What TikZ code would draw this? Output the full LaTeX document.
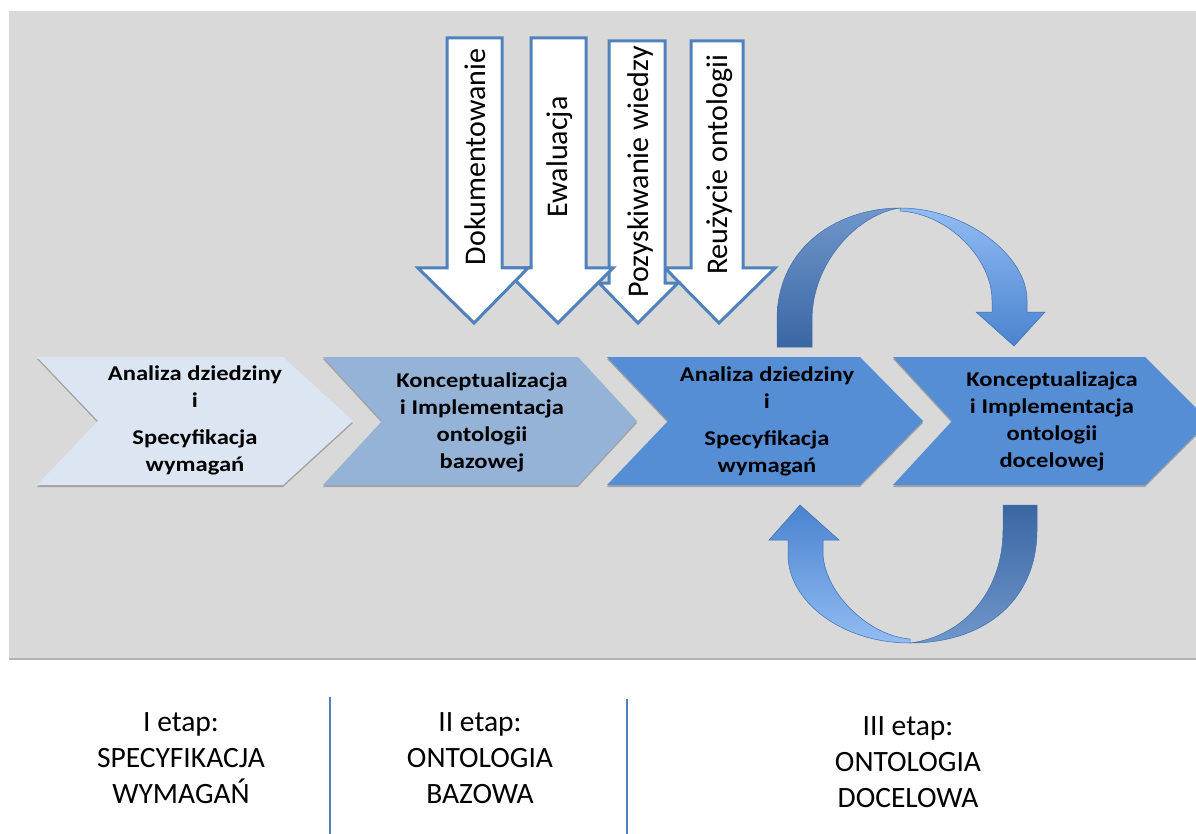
\documentclass[tikz,border=0pt]{standalone}
\usepackage{fontspec}
\setmainfont{Carlito}
\newfontfamily\chevfont[FakeStretch=1.17]{Carlito}
\usetikzlibrary{shadows}
\definecolor{bggray}{HTML}{D9D9D9}
\definecolor{chevA}{HTML}{DCE6F2}
\definecolor{chevB}{HTML}{95B3D7}
\definecolor{chevC}{HTML}{558ED5}
\definecolor{outl}{HTML}{4F81BD}
\definecolor{arcdark}{HTML}{3A66A3}
\definecolor{arcmid}{HTML}{7097CB}
\definecolor{arclight}{HTML}{92BCF3}
\definecolor{archead}{HTML}{4A83CF}
\tikzset{
  chevshadow/.style={drop shadow={shadow xshift=0pt,shadow yshift=-2pt,opacity=.25,fill=black}},
  dnarrow/.style={fill=white, draw=outl, line width=3pt, line join=miter},
  chevtext/.style={font=\chevfont\bfseries\fontsize{21}{27}\selectfont, align=center, text=black, inner sep=0pt},
  vtext/.style={font=\fontsize{30}{36}\selectfont, rotate=90, inner sep=0pt},
  stagetext/.style={font=\fontsize{29.5}{36}\selectfont, align=center, inner sep=0pt},
  sepline/.style={draw=outl, line width=2.5pt},
  arcedge/.style={draw=archead!85!black, line width=0.5pt},
}
\begin{document}
\begin{tikzpicture}[x=1pt,y=-1pt]
\useasboundingbox (0,0) rectangle (1196,834);
\clip (0,0) rectangle (1196,834);
% background panel
\path[fill=bggray, drop shadow={shadow xshift=0pt,shadow yshift=-2pt,opacity=.3,fill=black}] (9,11) rectangle (1205,658);

% white downward arrows
\path[dnarrow] (691,41) -- (743,41) -- (743,268) -- (775,268) -- (719,323) -- (665,268) -- (691,268) -- cycle;
\path[dnarrow] (609,41) -- (665,41) -- (665,283) -- (678,283) -- (638,323) -- (599,283) -- (609,283) -- cycle;
\path[dnarrow] (531,38) -- (586,38) -- (586,268) -- (613,268) -- (558,323) -- (503,268) -- (531,268) -- cycle;
\path[dnarrow] (447,38) -- (502,38) -- (502,268) -- (528,268) -- (474,323) -- (418,268) -- (447,268) -- cycle;
\node[vtext] (tDok) at (475,157) {Dokumentowanie};
\node[vtext] (tEwa) at (560,157) {Ewaluacja};
\node[vtext] (tPoz) at (640,172) {Pozyskiwanie wiedzy};
\node[vtext] (tReu) at (720,165) {Reużycie ontologii};

% chevrons
\path[fill=chevA, chevshadow] (37,357) -- (283,357) -- (353,421) -- (283,485) -- (37,485) -- (98,421) -- cycle;
\path[fill=chevB, chevshadow] (323,357) -- (578,357) -- (637,421) -- (578,485) -- (323,485) -- (382,421) -- cycle;
\path[fill=chevC, chevshadow] (607,357) -- (860,357) -- (923,421) -- (860,485) -- (607,485) -- (668,421) -- cycle;
\path[fill=chevC, chevshadow] (893,357) -- (1145,357) -- (1209,421) -- (1145,485) -- (893,485) -- (952,421) -- cycle;

\node[chevtext] (c1) at (195,420) {Analiza dziedziny\\i\\[10pt]Specyfikacja\\wymagań};
\node[chevtext] (c2) at (482,422) {Konceptualizacja\\i Implementacja\\ontologii\\bazowej};
\node[chevtext] (c3) at (767,421) {Analiza dziedziny\\i\\[10pt]Specyfikacja\\wymagań};
\node[chevtext] (c4) at (1052,421) {Konceptualizajca\\i Implementacja\\ontologii\\docelowej};

% top circular arrow
\path[shading=axis, top color=arcmid, bottom color=arcdark, arcedge]
  (777,347) -- (777,320) .. controls (777,245) and (840,208) .. (900,208)
  .. controls (858,214) and (812,262) .. (812,320) -- (812,347) -- cycle;
\path[shading=axis, top color=arclight, bottom color=archead, arcedge]
  (900,208) .. controls (965,208) and (1027,255) .. (1027,300) -- (1027,312) -- (1045,312)
  -- (1014,346) -- (976,312) -- (992,312) -- (992,300)
  .. controls (992,260) and (950,214) .. (900,211) -- cycle;

% bottom circular arrow
\path[shading=axis, top color=arcdark, bottom color=arcmid, arcedge]
  (1003,505) -- (1037,505) -- (1037,530) .. controls (1037,600) and (985,643) .. (910,643)
  .. controls (965,636) and (1003,590) .. (1003,530) -- cycle;
\path[shading=axis, top color=archead, bottom color=arclight, arcedge]
  (910,643) .. controls (840,643) and (788,600) .. (788,555) -- (788,540) -- (769,540)
  -- (800,505) -- (839,540) -- (823,540) -- (823,555)
  .. controls (826,595) and (870,636) .. (910,639) -- cycle;

% stage separators
\coordinate (s1t) at (330,697); \coordinate (s1b) at (330,834);
\coordinate (s2t) at (627,699); \coordinate (s2b) at (627,834);
\draw[sepline] (s1t) -- (s1b);
\draw[sepline] (s2t) -- (s2b);

% stage labels
\node[stagetext] (st1) at (181,758) {I etap:\\SPECYFIKACJA\\WYMAGAŃ};
\node[stagetext] (st2) at (480,758) {II etap:\\ONTOLOGIA\\BAZOWA};
\node[stagetext] (st3) at (908,762) {III etap:\\ONTOLOGIA\\DOCELOWA};
\end{tikzpicture}
\end{document}
